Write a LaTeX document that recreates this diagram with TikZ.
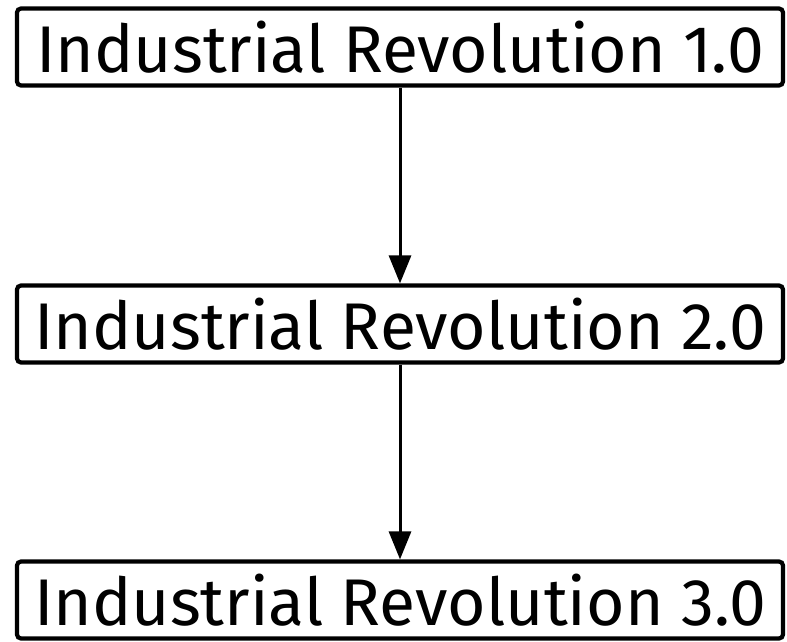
\documentclass[tikz,border=0pt]{standalone}
\usepackage{fontspec}
\setmainfont{Fira Sans}
\usetikzlibrary{arrows.meta}
\begin{document}
\begin{tikzpicture}[x=1pt,y=-1pt,
  stage/.style={draw,line width=4.2pt,rounded corners=4pt,minimum width=766pt,minimum height=77pt,inner sep=0pt,font=\fontsize{66}{70}\selectfont},
  flow/.style={line width=3pt,-{Triangle[width=22pt,length=28pt]}}]
\useasboundingbox (0,0) rectangle (787,642);
\node[stage] (r1) at (400,47) {Industrial Revolution 1.0};
\node[stage] (r2) at (400,324) {Industrial Revolution 2.0};
\node[stage] (r3) at (400,600) {Industrial Revolution 3.0};
\draw[flow] (r1) -- (r2);
\draw[flow] (r2) -- (r3);
\end{tikzpicture}
\end{document}
